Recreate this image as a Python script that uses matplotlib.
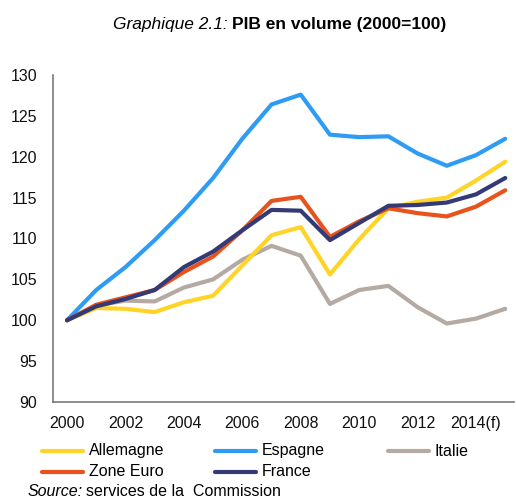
import matplotlib.pyplot as plt
from matplotlib.lines import Line2D

plt.rcParams['font.family'] = ['Liberation Sans', 'DejaVu Sans']

years = list(range(2000, 2016))
xtick_years = [2000, 2002, 2004, 2006, 2008, 2010, 2012, 2014]
xtick_labels = ['2000', '2002', '2004', '2006', '2008', '2010', '2012', '2014(f)']

allemagne = [100, 101.5, 101.4, 101.0, 102.2, 103.0, 106.7, 110.4,
             111.4, 105.6, 109.9, 113.7, 114.5, 115.0, 117.1, 119.4]
espagne = [100, 103.7, 106.5, 109.8, 113.4, 117.4, 122.2, 126.4,
           127.6, 122.7, 122.4, 122.5, 120.4, 118.9, 120.2, 122.2]
italie = [100, 101.8, 102.4, 102.3, 104.0, 105.0, 107.4, 109.1,
          107.9, 102.0, 103.7, 104.2, 101.6, 99.6, 100.2, 101.4]
zone_euro = [100, 101.9, 102.8, 103.7, 105.9, 107.8, 111.0, 114.6,
             115.1, 110.2, 112.1, 113.7, 113.1, 112.7, 113.9, 115.9]
france = [100, 101.7, 102.6, 103.7, 106.5, 108.4, 111.0, 113.5,
          113.4, 109.8, 111.9, 114.0, 114.1, 114.4, 115.4, 117.4]

series = [
    ('Italie', italie, '#b5aaa3'),
    ('Allemagne', allemagne, '#ffd426'),
    ('Espagne', espagne, '#2e9cf5'),
    ('Zone Euro', zone_euro, '#e8521c'),
    ('France', france, '#343a76'),
]
colors = {name: c for name, vals, c in series}

W, H = 516, 499
fig = plt.figure(figsize=(W / 100, H / 100), dpi=100)
ax = fig.add_axes([53 / W, 1 - 402 / H, (514 - 53) / W, (402 - 75) / H])

for name, vals, c in series:
    ax.plot(years, vals, color=c, lw=3, solid_capstyle='round',
            solid_joinstyle='round', label=name)

ax.set_xlim(1999.52, 2015.3)
ax.set_ylim(90, 130)
ax.set_yticks(range(90, 131, 5))
ax.set_xticks(xtick_years)
ax.set_xticklabels(xtick_labels)
ax.tick_params(length=0, labelsize=11.5, colors='#111111')
ax.tick_params(axis='y', pad=11.5)
ax.tick_params(axis='x', pad=10)
for s in ['top', 'right']:
    ax.spines[s].set_visible(False)
for s in ['left', 'bottom']:
    ax.spines[s].set_color('#7a7a7a')
    ax.spines[s].set_linewidth(1.2)

# title
fig.text(228 / W, 1 - 28.5 / H, 'Graphique 2.1:', style='italic', fontsize=12.5,
         ha='right', va='baseline')
fig.text(232 / W, 1 - 28.5 / H, 'PIB en volume (2000=100)', weight='bold',
         fontsize=12.5, ha='left', va='baseline')

# legend, laid out like the original (3 columns, 2 rows)
legend_order = [('Allemagne', 0, 0), ('Espagne', 1, 0), ('Italie', 2, 0),
                ('Zone Euro', 0, 1), ('France', 1, 1)]
col_x = [42, 215, 388]
row_y = [451, 472]
for name, col, row in legend_order:
    x0 = col_x[col]
    y = 1 - row_y[row] / H
    fig.add_artist(Line2D([x0 / W, (x0 + 41) / W], [y, y], color=colors[name],
                          lw=3, solid_capstyle='round'))
    fig.text((x0 + 47) / W, y, name, fontsize=11.5, ha='left', va='center')

fig.text(28 / W, 1 - 492 / H, 'Source:', style='italic', fontsize=11.5,
         ha='left', va='center')
fig.text(86 / W, 1 - 492 / H, 'services de la  Commission', fontsize=11.5,
         ha='left', va='center')

fig.savefig('out.png', dpi=100)
